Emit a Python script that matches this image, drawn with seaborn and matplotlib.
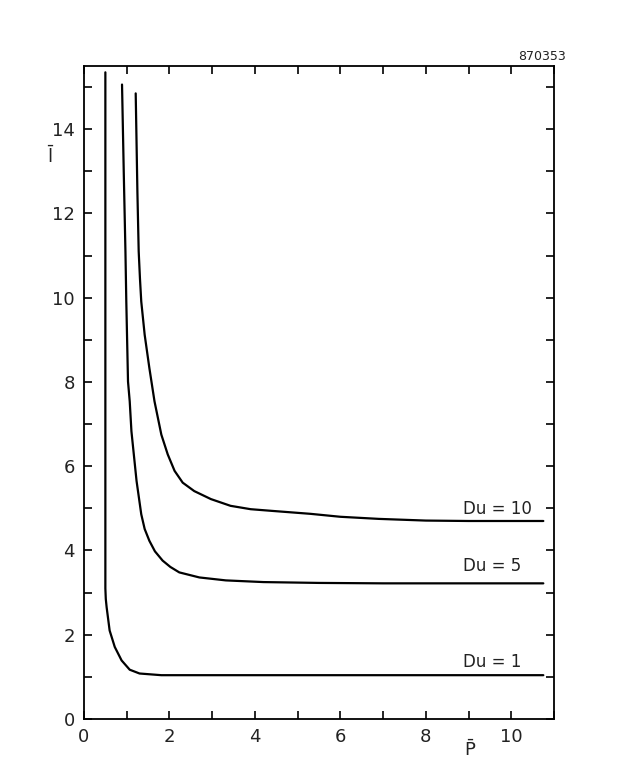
import matplotlib
matplotlib.use("Agg")
import matplotlib.pyplot as plt
import seaborn as sns
import pandas as pd
from matplotlib.ticker import MultipleLocator

# Data
du1_x = [0.50, 0.50, 0.51, 0.53, 0.60, 0.72, 0.88, 1.07, 1.30, 1.81, 3.0, 6.0, 10.75]
du1_y = [15.35, 3.10, 2.85, 2.65, 2.10, 1.71, 1.39, 1.17, 1.08, 1.04, 1.04, 1.04, 1.04]

du5_x = [0.89, 0.93, 0.97, 0.99, 1.03, 1.07, 1.11, 1.23, 1.34, 1.42, 1.53, 1.66, 1.84, 2.02,
         2.23, 2.70, 3.32, 4.2, 5.5, 7.0, 10.75]
du5_y = [15.06, 13.0, 11.09, 9.91, 8.01, 7.54, 6.83, 5.65, 4.86, 4.51, 4.23, 3.98, 3.76, 3.61,
         3.48, 3.36, 3.29, 3.25, 3.23, 3.22, 3.22]

du10_x = [1.21, 1.25, 1.28, 1.31, 1.34, 1.42, 1.53, 1.65, 1.81, 1.96, 2.12, 2.31, 2.58, 2.97,
          3.43, 3.90, 4.40, 5.3, 6.0, 6.9, 8.0, 9.0, 10.75]
du10_y = [14.85, 12.5, 11.1, 10.45, 9.91, 9.12, 8.33, 7.54, 6.75, 6.28, 5.89, 5.61, 5.41, 5.22,
          5.06, 4.98, 4.94, 4.87, 4.80, 4.75, 4.71, 4.70, 4.70]

labels = ["Du = 1", "Du = 5", "Du = 10"]
label_y = [1.35, 3.62, 4.99]
label_x = 8.86

xticks = [0, 2, 4, 6, 8, 10]
yticks = [0, 2, 4, 6, 8, 10, 12, 14]

frames = []
for lab, xs, ys in zip(labels, [du1_x, du5_x, du10_x], [du1_y, du5_y, du10_y]):
    frames.append(pd.DataFrame({"P": xs, "l": ys, "curve": lab}))
df = pd.concat(frames, ignore_index=True)

sns.set_theme(style="white")
plt.rcParams['font.family'] = ['DejaVu Sans']

fig = plt.figure(figsize=(6.17, 7.67), dpi=100)
ax = fig.add_axes([84/617, 1 - 719/767, (554-84)/617, (719-66)/767])

sns.lineplot(data=df, x="P", y="l", units="curve", estimator=None, sort=False,
             color="black", linewidth=1.6, ax=ax)

ax.set_xlim(0, 11.0)
ax.set_ylim(0, 15.5)
ax.set_xticks(xticks)
ax.set_yticks(yticks)
ax.xaxis.set_minor_locator(MultipleLocator(1))
ax.yaxis.set_minor_locator(MultipleLocator(1))
ax.tick_params(which="both", direction="in", length=6, width=1.2, color="black",
               bottom=True, left=True, right=True, top=True,
               labelsize=13, labelcolor="#222222", pad=6.5)
for s in ax.spines.values():
    s.set_color("black")
    s.set_linewidth(1.3)

ax.set_xlabel("")
ax.set_ylabel("")

for lab, ly in zip(labels, label_y):
    ax.text(label_x, ly, lab, fontsize=12, color="#222222", va="center", ha="left")

ax.text((470-84)/470, -(750-719)/653, r"$\bar{\mathrm{P}}$", transform=ax.transAxes,
        fontsize=13, ha="center", va="center", color="#222222")
ax.text((51-84)/470, (719-156)/653, r"$\bar{\mathrm{l}}$", transform=ax.transAxes,
        fontsize=13, ha="center", va="center", color="#222222")
ax.text((566-84)/470, 1.005, "870353", transform=ax.transAxes, fontsize=9,
        ha="right", va="bottom", color="#222222")

fig.savefig("out.png", dpi=100)
